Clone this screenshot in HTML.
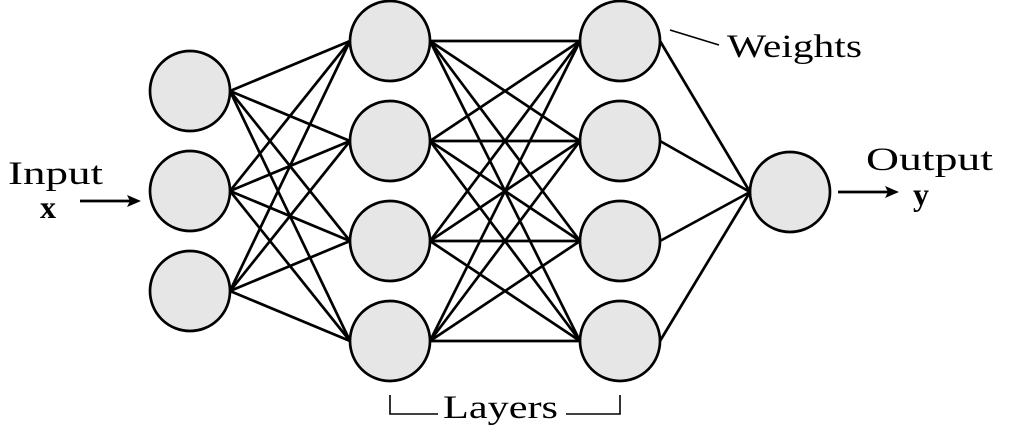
<!DOCTYPE html>
<html><head><meta charset="utf-8"><style>html,body{margin:0;padding:0;background:#fff}svg{display:block}text{font-family:"Liberation Serif",serif;fill:#000}</style></head>
<body>
<svg id="nn" width="1014" height="433" viewBox="0 0 1014 433" xmlns="http://www.w3.org/2000/svg">
<g id="edges" stroke="#000" stroke-width="2.7"></g>
<g id="nodes"></g>
<g>
<text x="8" y="184" font-size="33" textLength="95" lengthAdjust="spacingAndGlyphs">Input</text>
<text x="40" y="218" font-size="32" font-weight="bold">x</text>
<line x1="80" y1="201" x2="134" y2="201" stroke="#000" stroke-width="2.7"/>
<polygon points="141,201 127,195 130,201 127,207" fill="#000"/>
</g>
<g>
<text x="866" y="170" font-size="33" textLength="127" lengthAdjust="spacingAndGlyphs">Output</text>
<text x="913" y="205" font-size="32" font-weight="bold">y</text>
<line x1="838" y1="192" x2="892" y2="192" stroke="#000" stroke-width="2.7"/>
<polygon points="899,192 885,186 888,192 885,198" fill="#000"/>
</g>
<g>
<line x1="670" y1="30" x2="719" y2="45" stroke="#000" stroke-width="1.6"/>
<text x="727" y="57" font-size="33" textLength="135" lengthAdjust="spacingAndGlyphs">Weights</text>
</g>
<g>
<polyline points="390,395 390,414 438,414" fill="none" stroke="#000" stroke-width="1.6"/>
<polyline points="566,414 620,414 620,395" fill="none" stroke="#000" stroke-width="1.6"/>
<text x="443" y="418" font-size="33" textLength="115" lengthAdjust="spacingAndGlyphs">Layers</text>
</g>
</svg>
<script>
const layerX=[190,390,620,790];
const layerYs=[[91,191,291],[41,141,241,341],[41,141,241,341],[192]];
const R=40;
const NS="http://www.w3.org/2000/svg";
const eg=document.getElementById('edges'),ng=document.getElementById('nodes');
for(let l=0;l<layerX.length-1;l++){
  for(const y1 of layerYs[l]){for(const y2 of layerYs[l+1]){
    const ln=document.createElementNS(NS,'line');
    ln.setAttribute('x1',layerX[l]+R);ln.setAttribute('y1',y1);
    ln.setAttribute('x2',layerX[l+1]-R);ln.setAttribute('y2',y2);
    
    
    eg.appendChild(ln);
  }}
}
layerX.forEach((x,l)=>{layerYs[l].forEach(y=>{
  const c=document.createElementNS(NS,'circle');
  c.setAttribute('cx',x);c.setAttribute('cy',y);c.setAttribute('r',R);
  c.setAttribute('fill','#e6e6e6');c.setAttribute('stroke','#000');c.setAttribute('stroke-width','2.7');
  
  
  ng.appendChild(c);
});});
</script>
</body></html>
